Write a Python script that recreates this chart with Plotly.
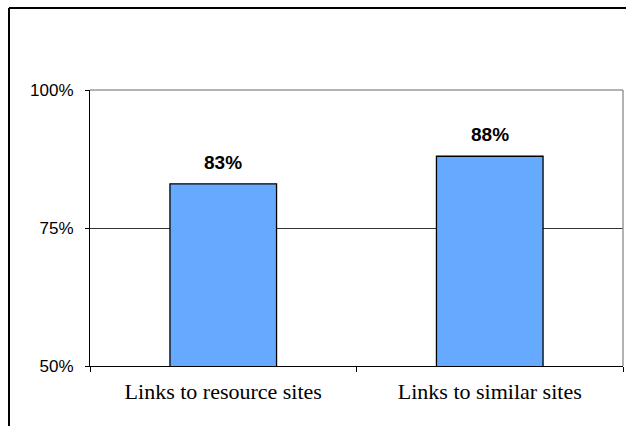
import plotly.graph_objects as go

# Share of sites offering each kind of link (percent)
categories = ["Links to resource sites", "Links to similar sites"]
values = [83, 88]
y_ticks = [50, 75, 100]
y_tick_labels = ["50%", "75%", "100%"]

W, H = 626, 426
L, R, T, B = 90, 3, 90, 60
plot_w = W - L - R
plot_h = H - T - B

fig = go.Figure()
fig.add_trace(go.Bar(
    x=categories,
    y=values,
    width=0.4,
    marker=dict(color="#66AAFF", line=dict(color="#000000", width=1.3)),
    hoverinfo="skip",
))

# Bold value labels above each bar
for c, v in zip(categories, values):
    fig.add_annotation(
        x=c, y=v, text=f"<b>{v}%</b>", showarrow=False,
        yanchor="bottom", yshift=9,
        font=dict(family="Liberation Sans, Arial", size=19, color="#000000"),
    )

# Gray top/right border of the plot area
fig.add_shape(type="line", xref="paper", yref="paper", x0=0, x1=1, y0=1, y1=1,
              line=dict(color="#999999", width=1.5), layer="above")
fig.add_shape(type="line", xref="paper", yref="paper", x0=1, x1=1, y0=0, y1=1,
              line=dict(color="#999999", width=1.5), layer="above")

# Outer chart frame (top and left edges)
fx = (9 - L) / plot_w
fy = (H - B - 8) / plot_h
fig.add_shape(type="line", xref="paper", yref="paper", x0=fx, x1=1.2, y0=fy, y1=fy,
              line=dict(color="#000000", width=2))
fig.add_shape(type="line", xref="paper", yref="paper", x0=fx, x1=fx, y0=fy, y1=-0.5,
              line=dict(color="#000000", width=2))

fig.update_layout(
    width=W, height=H,
    margin=dict(l=L, r=R, t=T, b=B, pad=0),
    paper_bgcolor="#FFFFFF",
    plot_bgcolor="#FFFFFF",
    showlegend=False,
    bargap=0.6,
    xaxis=dict(
        type="category",
        tickson="boundaries",
        ticks="outside", ticklen=5, tickcolor="#000000", tickwidth=1,
        showline=True, linecolor="#000000", linewidth=1,
        showgrid=False,
        tickfont=dict(family="Liberation Serif, Times New Roman", size=22, color="#000000"),
        ticklabelstandoff=6,
    ),
    yaxis=dict(
        range=[50, 100],
        tickvals=y_ticks, ticktext=y_tick_labels,
        ticks="outside", ticklen=4, tickcolor="#000000", tickwidth=1,
        showline=True, linecolor="#000000", linewidth=1,
        showgrid=True, gridcolor="#333333", gridwidth=1,
        zeroline=False,
        tickfont=dict(family="Liberation Sans, Arial", size=17, color="#000000"),
        ticklabelstandoff=8,
    ),
)

fig.write_html("out.html")
